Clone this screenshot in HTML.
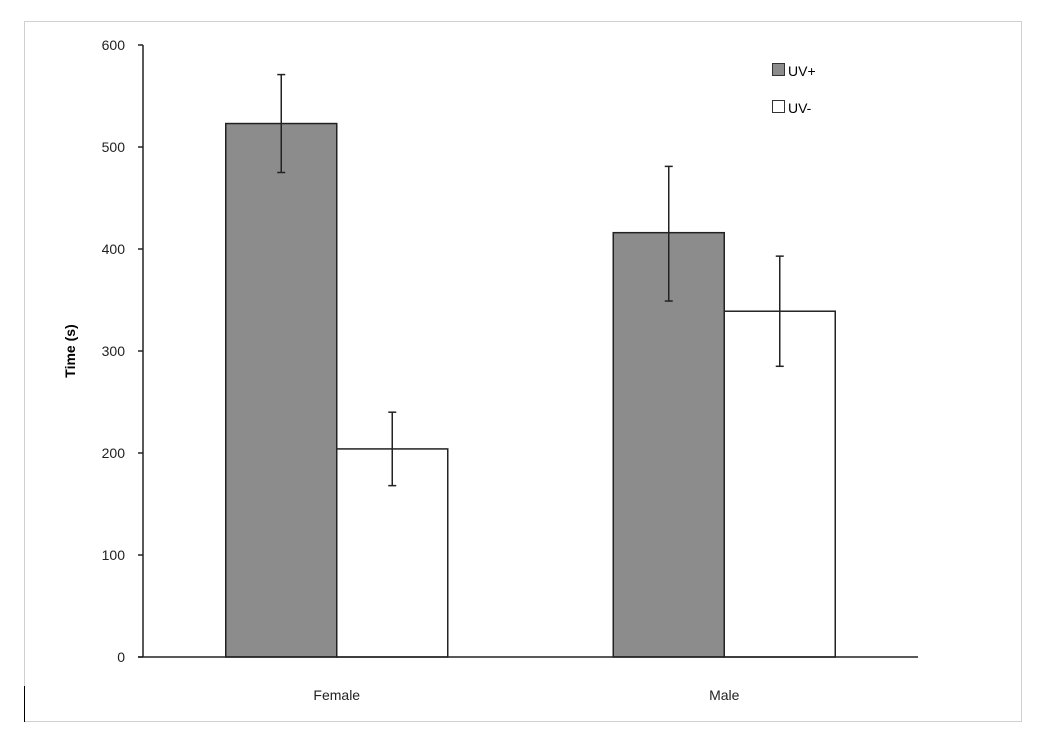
<!DOCTYPE html>
<html><head><meta charset="utf-8"><style>
body{margin:0;background:#fff;}
svg{display:block;font-family:"Liberation Sans",Arial,sans-serif;}
</style></head><body>
<svg id="chart" width="1047" height="744">
<rect x="24.5" y="21.5" width="997" height="700" fill="#fff" stroke="#d0d0d0" stroke-width="1"/>
<line x1="24.5" y1="686" x2="24.5" y2="722" stroke="#000" stroke-width="1"/>
<g id="bars"></g>
<g id="axes"></g>
<text x="0" y="0" transform="translate(75,351) rotate(-90)" text-anchor="middle" font-size="14" font-weight="bold">Time (s)</text>
<g>
<rect x="772.5" y="63.5" width="12" height="12" fill="#8c8c8c" stroke="#333"/>
<text x="788" y="76" font-size="14">UV+</text>
<rect x="772.5" y="100.5" width="12" height="12" fill="#fff" stroke="#333"/>
<text x="788" y="113" font-size="14">UV-</text>
</g>
</svg>
<script>
const categories = ["Female", "Male"];
const uvPlus = [523, 416];
const uvMinus = [204, 339];
const uvPlusHigh = [571, 481];
const uvPlusLow = [475, 349];
const uvMinusHigh = [240, 393];
const uvMinusLow = [168, 285];
const yTicks = [0, 100, 200, 300, 400, 500, 600];

const NS = "http://www.w3.org/2000/svg";
const x0 = 143, x1 = 918, y0 = 657, yTop = 45, yMax = 600;
const barW = 111;
function yScale(v){ return y0 - (v / yMax) * (y0 - yTop); }
function xCenter(i){ return x0 + (x1 - x0) / categories.length * (i + 0.5); }
function mk(tag, attrs, parent){ const e = document.createElementNS(NS, tag); for (const k in attrs) e.setAttribute(k, attrs[k]); parent.appendChild(e); return e; }
const bars = document.getElementById("bars");
const axes = document.getElementById("axes");

const series = [
  {vals: uvPlus, hi: uvPlusHigh, lo: uvPlusLow, fill: "#8c8c8c", name: "uv-plus", off: -1},
  {vals: uvMinus, hi: uvMinusHigh, lo: uvMinusLow, fill: "#ffffff", name: "uv-minus", off: 0}
];
series.forEach(s => {
  categories.forEach((c, i) => {
    const cx = xCenter(i);
    const bx = cx + s.off * barW;
    const top = yScale(s.vals[i]);
    const r = mk("rect", {x: bx, y: top, width: barW, height: y0 - top, fill: s.fill, stroke: "#222", "stroke-width": 1.5}, bars);
    
    
    const ex = bx + barW / 2;
    const g = mk("g", {stroke: "#222", "stroke-width": 1.5}, bars);
    
    
    mk("line", {x1: ex, x2: ex, y1: yScale(s.hi[i]), y2: yScale(s.lo[i])}, g);
    mk("line", {x1: ex - 4, x2: ex + 4, y1: yScale(s.hi[i]), y2: yScale(s.hi[i])}, g);
    mk("line", {x1: ex - 4, x2: ex + 4, y1: yScale(s.lo[i]), y2: yScale(s.lo[i])}, g);
  });
});

const yAxis = mk("line", {x1: x0, x2: x0, y1: yTop, y2: y0, stroke: "#222", "stroke-width": 1.5}, axes);


const xAxis = mk("line", {x1: x0 - 5, x2: x1, y1: y0, y2: y0, stroke: "#222", "stroke-width": 1.5}, axes);


yTicks.forEach(t => {
  const y = yScale(t);
  const tk = mk("line", {x1: x0 - 5, x2: x0, y1: y, y2: y, stroke: "#222", "stroke-width": 1.5}, axes);
  
  
  const lb = mk("text", {x: 125, y: y + 5, "text-anchor": "end", "font-size": 14, fill: "#222"}, axes);
  lb.textContent = t;
  
  
});
categories.forEach((c, i) => {
  const lb = mk("text", {x: xCenter(i), y: 700, "text-anchor": "middle", "font-size": 14, fill: "#222"}, axes);
  lb.textContent = c;
  
  
});
</script>
</body></html>
